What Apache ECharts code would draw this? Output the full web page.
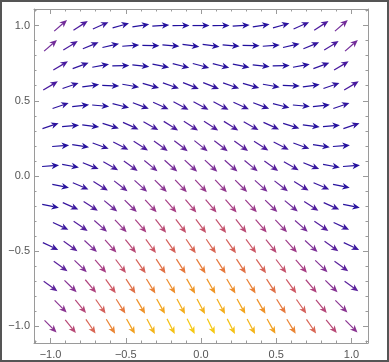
<!DOCTYPE html>
<html><head><meta charset="utf-8">
<script src="https://cdn.jsdelivr.net/npm/echarts@6/dist/echarts.min.js"></script>
<style>html,body{margin:0;padding:0;background:#fff}#c{width:389px;height:362px}</style>
</head><body><div id="c"></div>
<script>
// row heights of the arrow grid (staggered rows)
const rowY = [1.0, 0.867, 0.733, 0.6, 0.467, 0.333, 0.2, 0.067, -0.067, -0.2, -0.333, -0.467, -0.6, -0.733, -0.867, -1.0];
// x positions for even rows (15 arrows) and odd rows (16 arrows)
const xEven = [-0.933, -0.8, -0.667, -0.533, -0.4, -0.267, -0.133, 0, 0.133, 0.267, 0.4, 0.533, 0.667, 0.8, 0.933];
const xOdd = [-1, -0.867, -0.733, -0.6, -0.467, -0.333, -0.2, -0.067, 0.067, 0.2, 0.333, 0.467, 0.6, 0.733, 0.867, 1];
// slope (dy/dx) of each arrow, read row by row; dx is always positive
const slope00 = [0.87, 0.64, 0.44, 0.28, 0.16, 0.07, 0.02, 0, 0.02, 0.07, 0.16, 0.28, 0.44, 0.64, 0.87];
const slope01 = [0.87, 0.62, 0.41, 0.23, 0.08, -0.02, -0.09, -0.13, -0.13, -0.09, -0.02, 0.08, 0.23, 0.41, 0.62, 0.87];
const slope02 = [0.60, 0.37, 0.18, 0.02, -0.11, -0.20, -0.25, -0.27, -0.25, -0.20, -0.11, 0.02, 0.18, 0.37, 0.60];
const slope03 = [0.60, 0.35, 0.14, -0.04, -0.18, -0.29, -0.36, -0.40, -0.40, -0.36, -0.29, -0.18, -0.04, 0.14, 0.35, 0.60];
const slope04 = [0.34, 0.11, -0.09, -0.25, -0.37, -0.46, -0.52, -0.53, -0.52, -0.46, -0.37, -0.25, -0.09, 0.11, 0.34];
const slope05 = [0.33, 0.08, -0.13, -0.31, -0.45, -0.56, -0.63, -0.66, -0.66, -0.63, -0.56, -0.45, -0.31, -0.13, 0.08, 0.33];
const slope06 = [0.07, -0.16, -0.36, -0.52, -0.64, -0.73, -0.78, -0.80, -0.78, -0.73, -0.64, -0.52, -0.36, -0.16, 0.07];
const slope07 = [0.07, -0.18, -0.40, -0.57, -0.72, -0.82, -0.89, -0.93, -0.93, -0.89, -0.82, -0.72, -0.57, -0.40, -0.18, 0.07];
const slope08 = [-0.20, -0.43, -0.62, -0.78, -0.91, -1.00, -1.05, -1.07, -1.05, -1.00, -0.91, -0.78, -0.62, -0.43, -0.20];
const slope09 = [-0.20, -0.45, -0.66, -0.84, -0.98, -1.09, -1.16, -1.20, -1.20, -1.16, -1.09, -0.98, -0.84, -0.66, -0.45, -0.20];
const slope10 = [-0.46, -0.69, -0.89, -1.05, -1.17, -1.26, -1.32, -1.33, -1.32, -1.26, -1.17, -1.05, -0.89, -0.69, -0.46];
const slope11 = [-0.47, -0.72, -0.93, -1.11, -1.25, -1.36, -1.43, -1.46, -1.46, -1.43, -1.36, -1.25, -1.11, -0.93, -0.72, -0.47];
const slope12 = [-0.73, -0.96, -1.16, -1.32, -1.44, -1.53, -1.58, -1.60, -1.58, -1.53, -1.44, -1.32, -1.16, -0.96, -0.73];
const slope13 = [-0.73, -0.98, -1.20, -1.37, -1.52, -1.62, -1.69, -1.73, -1.73, -1.69, -1.62, -1.52, -1.37, -1.20, -0.98, -0.73];
const slope14 = [-1.00, -1.23, -1.42, -1.58, -1.71, -1.80, -1.85, -1.87, -1.85, -1.80, -1.71, -1.58, -1.42, -1.23, -1.00];
const slope15 = [-1.00, -1.25, -1.46, -1.64, -1.78, -1.89, -1.96, -2.00, -2.00, -1.96, -1.89, -1.78, -1.64, -1.46, -1.25, -1.00];
const slopeRows = [slope00, slope01, slope02, slope03, slope04, slope05, slope06, slope07,
                   slope08, slope09, slope10, slope11, slope12, slope13, slope14, slope15];
const tickValues = [-1.0, -0.5, 0.0, 0.5, 1.0];
const tickLabels = ['\u22121.0', '\u22120.5', '0.0', '0.5', '1.0'];
const colorScale = ['#22109e', '#4a1a9e', '#7a2e98', '#a83e84', '#d05a62', '#e87c3a', '#f2a41c', '#f5c812'];

const data = [];
rowY.forEach((y, r) => {
  const xs = r % 2 === 0 ? xEven : xOdd;
  const sl = slopeRows[r];
  xs.forEach((x, k) => {
    data.push([x, y, sl[k], Math.hypot(1, sl[k])]);
  });
});

function fmt(v) {
  const i = tickValues.findIndex(t => Math.abs(t - v) < 1e-6);
  return i >= 0 ? tickLabels[i] : '';
}

function renderItem(params, api) {
  const x = api.value(0), y = api.value(1), s = api.value(2);
  const p = api.coord([x, y]);
  const q = api.coord([x + 0.1, y + 0.1 * s]);
  let dx = q[0] - p[0], dy = q[1] - p[1];
  const len = Math.hypot(dx, dy); dx /= len; dy /= len;
  const nx = -dy, ny = dx;
  const L = 17, hl = 7.5, hw = 3.3;
  const tail = [p[0] - dx * L / 2, p[1] - dy * L / 2];
  const tip = [p[0] + dx * L / 2, p[1] + dy * L / 2];
  const base = [tip[0] - dx * hl, tip[1] - dy * hl];
  const notch = [tip[0] - dx * hl * 0.72, tip[1] - dy * hl * 0.72];
  const color = api.visual('color');
  return {
    type: 'group',
    children: [
      { type: 'line', shape: { x1: tail[0], y1: tail[1], x2: notch[0], y2: notch[1] },
        style: { stroke: color, lineWidth: 1.2 } },
      { type: 'polygon', shape: { points: [tip, [base[0] + nx * hw, base[1] + ny * hw], notch, [base[0] - nx * hw, base[1] - ny * hw]] },
        style: { fill: color } }
    ]
  };
}

const frameColor = '#9a9a9a';
function axis(pos, showLabel, isX) {
  return {
    type: 'value', position: pos, min: -1.11, max: 1.11, splitNumber: 5,
    axisLine: { show: true, onZero: false, lineStyle: { color: frameColor, width: 1 } },
    axisTick: { show: true, inside: true, length: 5, lineStyle: { color: frameColor } },
    minorTick: { show: true, splitNumber: 5, length: 2.5, lineStyle: { color: frameColor } },
    splitLine: { show: false },
    axisLabel: { show: showLabel, formatter: fmt, showMinLabel: false, showMaxLabel: false,
      color: '#555', fontSize: 11, fontFamily: 'Liberation Sans, Arial, sans-serif', margin: isX ? 6 : 4 }
  };
}

const chart = echarts.init(document.getElementById('c'), null, { renderer: 'canvas' });
chart.setOption({
  animation: false,
  backgroundColor: '#fff',
  grid: { left: 34, right: 21, top: 9, bottom: 19, containLabel: false },
  xAxis: [axis('bottom', true, true), axis('top', false, true)],
  yAxis: [axis('left', true, false), axis('right', false, false)],
  visualMap: { show: false, type: 'continuous', dimension: 3, min: 1, max: 2.236, seriesIndex: 0,
    inRange: { color: colorScale } },
  graphic: [{ type: 'rect', shape: { x: 1, y: 1, width: 387, height: 360 },
    style: { fill: 'none', stroke: '#555', lineWidth: 2 }, silent: true, z: 100 }],
  series: [{
    type: 'custom', renderItem: renderItem, data: data,
    dimensions: ['x', 'y', 'slope', 'magnitude'],
    encode: { x: 0, y: 1 }, clip: false
  }]
});
</script></body></html>
